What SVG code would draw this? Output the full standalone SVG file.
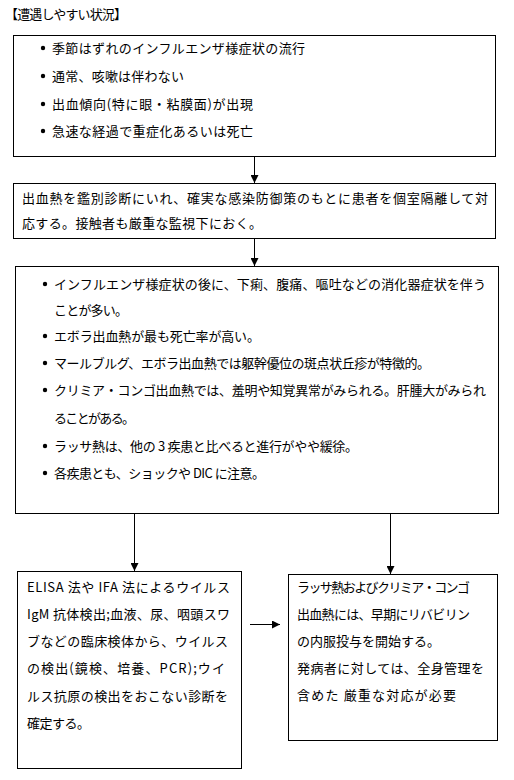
<svg xmlns="http://www.w3.org/2000/svg" width="514" height="780" viewBox="0 0 514 780">
<style>
text{font-family:"Noto Sans CJK JP","Noto Sans CJK SC",sans-serif;font-size:13px;fill:#000}
rect{fill:#fff;stroke:#000;stroke-width:1}
.c line{stroke:#000;stroke-width:1}
circle{fill:#000}
</style>
<defs>
<marker id="ah" viewBox="0 0 8 8" refX="8" refY="4" markerWidth="8" markerHeight="8" markerUnits="userSpaceOnUse" orient="auto">
<path d="M0,0 L8,4 L0,8 z" fill="#000"/>
</marker>
</defs>
<rect width="514" height="780" style="stroke:none"/>
<text x="5" y="19" textLength="122">【遭遇しやすい状況】</text>
<g id="box1">
<rect x="13.5" y="35.5" width="482" height="121"/>
<circle cx="43" cy="48" r="2.2"/><text x="52" y="53" textLength="253">季節はずれのインフルエンザ様症状の流行</text>
<circle cx="43" cy="76" r="2.2"/><text x="52" y="81" textLength="132">通常、咳嗽は伴わない</text>
<circle cx="43" cy="104" r="2.2"/><text x="52" y="109" textLength="201">出血傾向(特に眼・粘膜面)が出現</text>
<circle cx="43" cy="131" r="2.2"/><text x="52" y="136" textLength="201">急速な経過で重症化あるいは死亡</text>
</g>
<g id="box2">
<rect x="13.5" y="183.5" width="482" height="55"/>
<text x="22" y="203" textLength="466">出血熱を鑑別診断にいれ、確実な感染防御策のもとに患者を個室隔離して対</text>
<text x="22" y="228" textLength="240">応する。接触者も厳重な監視下におく。</text>
</g>
<g id="box3">
<rect x="15.5" y="266.5" width="483" height="247"/>
<circle cx="45" cy="284" r="2.2"/><text x="54" y="289" textLength="432">インフルエンザ様症状の後に、下痢、腹痛、嘔吐などの消化器症状を伴う</text>
<text x="54" y="315" textLength="74">ことが多い。</text>
<circle cx="45" cy="336" r="2.2"/><text x="54" y="341" textLength="206">エボラ出血熱が最も死亡率が高い。</text>
<circle cx="45" cy="363" r="2.2"/><text x="54" y="368" textLength="376">マールブルグ、エボラ出血熱では躯幹優位の斑点状丘疹が特徴的。</text>
<circle cx="45" cy="390" r="2.2"/><text x="54" y="395" textLength="432">クリミア・コンゴ出血熱では、羞明や知覚異常がみられる。肝腫大がみられ</text>
<text x="54" y="423" textLength="81">ることがある。</text>
<circle cx="45" cy="446" r="2.2"/><text x="54" y="451" textLength="304">ラッサ熱は、他の 3 疾患と比べると進行がやや緩徐。</text>
<circle cx="45" cy="473" r="2.2"/><text x="54" y="478" textLength="211">各疾患とも、ショックや DIC に注意。</text>
</g>
<g id="box4">
<rect x="17.5" y="571.5" width="224" height="197"/>
<text x="27" y="592" textLength="203">ELISA 法や IFA 法によるウイルス</text>
<text x="27" y="619" textLength="203">IgM 抗体検出;血液、尿、咽頭スワ</text>
<text x="27" y="646" textLength="201">ブなどの臨床検体から、ウイルス</text>
<text x="27" y="673" textLength="198">の検出(鏡検、培養、PCR);ウイ</text>
<text x="27" y="701" textLength="201">ルス抗原の検出をおこない診断を</text>
<text x="27" y="728" textLength="63">確定する。</text>
</g>
<g id="box5">
<rect x="288.5" y="574.5" width="209" height="166"/>
<text x="297" y="592" textLength="173">ラッサ熱およびクリミア・コンゴ</text>
<text x="297" y="619" textLength="173">出血熱には、早期にリバビリン</text>
<text x="297" y="646" textLength="143">の内服投与を開始する。</text>
<text x="297" y="673" textLength="187">発病者に対しては、全身管理を</text>
<text x="297" y="700" textLength="159">含めた 厳重な対応が必要</text>
</g>
<g class="c" id="connectors">
<line x1="254.5" y1="157" x2="254.5" y2="183" marker-end="url(#ah)"/>
<line x1="254.5" y1="239" x2="254.5" y2="266" marker-end="url(#ah)"/>
<line x1="134.5" y1="514" x2="134.5" y2="571" marker-end="url(#ah)"/>
<line x1="390.5" y1="514" x2="390.5" y2="574" marker-end="url(#ah)"/>
<line x1="250" y1="624.5" x2="280" y2="624.5" marker-end="url(#ah)"/>
</g>
</svg>
